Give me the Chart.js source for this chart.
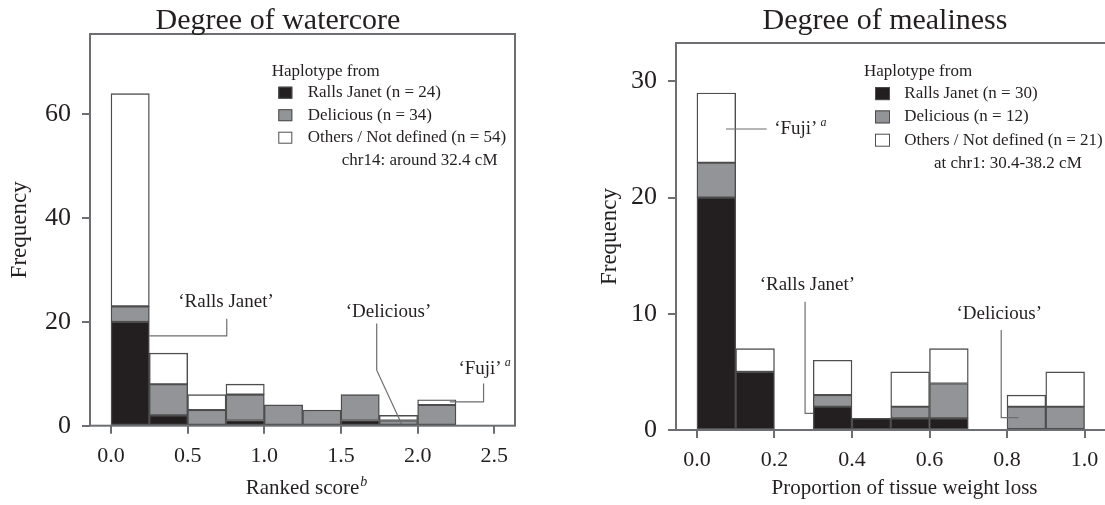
<!DOCTYPE html>
<html>
<head>
<meta charset="utf-8">
<script src="https://cdn.jsdelivr.net/npm/chart.js@4.4.1/dist/chart.umd.min.js"></script>
<style>
    html, body { margin: 0; padding: 0; background: #fff; overflow: hidden; width: 1105px; height: 505px; }
    .panel { position: absolute; top: 0; height: 505px; }
    #panel-watercore { left: 0; width: 556px; }
    #panel-mealiness { left: 560px; width: 650px; }
</style>
</head>
<body>
<div class="panel" id="panel-watercore"><canvas id="chart-watercore"></canvas></div>
<div class="panel" id="panel-mealiness"><canvas id="chart-mealiness"></canvas></div>

<script>
// ---- 資料：含水（watercore） ----
const watercoreBinStart = [0, 0.25, 0.5, 0.75, 1.0, 1.25, 1.5, 1.75, 2.0];
const watercoreBinWidth = 0.25;
const watercoreRallsJanet = [20, 2, 0, 1, 0, 0, 1, 0, 0];
const watercoreDelicious = [3, 6, 3, 5, 4, 3, 5, 1, 4];
const watercoreOthers = [41, 6, 3, 2, 0, 0, 0, 1, 1];
const watercoreLabels = ["Ralls Janet (n = 24)", "Delicious (n = 34)", "Others / Not defined (n = 54)"];
const watercoreXTicks = [0, 0.5, 1.0, 1.5, 2.0, 2.5];
const watercoreYTicks = [0, 20, 40, 60];

// ---- 資料：粉質（mealiness） ----
const mealinessBinStart = [0, 0.1, 0.2, 0.3, 0.4, 0.5, 0.6, 0.7, 0.8, 0.9];
const mealinessBinWidth = 0.1;
const mealinessRallsJanet = [20, 5, 0, 2, 1, 1, 1, 0, 0, 0];
const mealinessDelicious = [3, 0, 0, 1, 0, 1, 3, 0, 2, 2];
const mealinessOthers = [6, 2, 0, 3, 0, 3, 3, 0, 1, 3];
const mealinessLabels = ["Ralls Janet (n = 30)", "Delicious (n = 12)", "Others / Not defined (n = 21)"];
const mealinessXTicks = [0, 0.2, 0.4, 0.6, 0.8, 1.0];
const mealinessYTicks = [0, 10, 20, 30];

// 標註（品種位置）：文字中心與引線，皆為資料座標
const watercoreCallouts = [
    { text: "‘Ralls Janet’", at: [0.75, 23.8], line: [[0.25, 17.3], [0.755, 17.3], [0.755, 20.6]] },
    { text: "‘Delicious’", at: [1.81, 21.9], line: [[1.733, 19.7], [1.733, 10.7], [1.896, 0.3]] },
    { text: "‘Fuji’", sup: "a", at: [2.407, 11.0], line: [[2.43, 8.15], [2.43, 4.6], [2.21, 4.6]] }
];
const mealinessCallouts = [
    { text: "‘Fuji’", sup: "a", at: [0.255, 25.9], line: [[0.075, 25.9], [0.18, 25.9]] },
    { text: "‘Ralls Janet’", at: [0.285, 12.47], line: [[0.279, 11.03], [0.279, 1.43], [0.30, 1.43]] },
    { text: "‘Delicious’", at: [0.78, 10.0], line: [[0.785, 8.6], [0.785, 1.06], [0.83, 1.06]] }
];

const SERIF = '"Liberation Serif", "Times New Roman", serif';
const INK = "#231f20";
const FRAME = "#6d6e71";
const EDGE = "#4d4d4d";
const FILLS = ["#231f20", "#929497", "#ffffff"];

Chart.defaults.font.family = SERIF;
Chart.defaults.color = INK;

// 自訂外框、標題、圖例與標註
const notesPlugin = {
    id: "notes",
    afterDraw(chart, args, opts) {
        const { ctx, chartArea: a, scales: { x, y } } = chart;
        ctx.save();

        // 外框
        ctx.strokeStyle = FRAME;
        ctx.lineWidth = 2;
        ctx.strokeRect(a.left, a.top, a.right - a.left, a.bottom - a.top);

        // 主標題
        ctx.fillStyle = INK;
        ctx.textBaseline = "middle";
        ctx.textAlign = "center";
        ctx.font = `30px ${SERIF}`;
        ctx.fillText(opts.title, chart.width / 2, 21);

        // x 軸標題上標
        if (opts.xSup) {
            const t = chart.options.scales.x.title;
            ctx.font = `${t.font.size}px ${SERIF}`;
            const w = ctx.measureText(t.text).width;
            const cy = x.bottom - t.padding.bottom - t.font.size / 2;
            ctx.font = `italic 14px ${SERIF}`;
            ctx.textAlign = "left";
            ctx.fillText(opts.xSup, (a.left + a.right) / 2 + w / 2 + 1, cy - 6);
        }

        // 圖例
        const L = opts.legend;
        const lx = a.left + L.dx;
        const ly = a.top + L.dy;
        ctx.font = `17px ${SERIF}`;
        ctx.textAlign = "left";
        ctx.fillStyle = INK;
        ctx.fillText("Haplotype from", lx, ly);
        chart.data.datasets.forEach((ds, i) => {
            const ry = ly + L.first + L.step * i;
            ctx.fillStyle = ds.backgroundColor;
            ctx.fillRect(lx + L.boxX, ry - L.boxH / 2, L.boxW, L.boxH);
            ctx.strokeStyle = EDGE;
            ctx.lineWidth = 1;
            ctx.strokeRect(lx + L.boxX + 0.5, ry - L.boxH / 2 + 0.5, L.boxW - 1, L.boxH - 1);
            ctx.fillStyle = INK;
            ctx.fillText(ds.label, lx + L.textX, ry);
        });
        ctx.fillText(L.note, lx + L.noteX, ly + L.first + L.step * 3);

        // 標註
        opts.callouts.forEach(c => {
            ctx.strokeStyle = FRAME;
            ctx.lineWidth = 1.2;
            ctx.beginPath();
            c.line.forEach((p, i) => {
                const px = x.getPixelForValue(p[0]);
                const py = y.getPixelForValue(p[1]);
                if (i === 0) ctx.moveTo(px, py); else ctx.lineTo(px, py);
            });
            ctx.stroke();

            ctx.font = `19px ${SERIF}`;
            ctx.textAlign = "center";
            ctx.fillStyle = INK;
            const cx = x.getPixelForValue(c.at[0]);
            const cy = y.getPixelForValue(c.at[1]);
            ctx.fillText(c.text, cx, cy);
            if (c.sup) {
                const w = ctx.measureText(c.text).width;
                ctx.font = `italic 12px ${SERIF}`;
                ctx.textAlign = "left";
                ctx.fillText(c.sup, cx + w / 2 + 3, cy - 6);
            }
        });

        ctx.restore();
    }
};

function makeHistogram(canvasId, cfg) {
    const centers = cfg.binStart.map(v => v + cfg.binWidth / 2);
    const series = [cfg.ralls, cfg.delicious, cfg.others];
    const datasets = series.map((vals, i) => ({
        label: cfg.labels[i],
        data: vals.map((v, k) => ({ x: centers[k], y: v })),
        backgroundColor: FILLS[i],
        borderColor: EDGE,
        borderWidth: 1.4,
        borderSkipped: false,
        barPercentage: 1,
        categoryPercentage: 1
    }));

    return new Chart(document.getElementById(canvasId), {
        type: "bar",
        data: { datasets },
        options: {
            responsive: true,
            maintainAspectRatio: false,
            animation: false,
            layout: { padding: { top: cfg.top, right: cfg.right, left: 0, bottom: 0 } },
            plugins: {
                legend: { display: false },
                tooltip: { enabled: false },
                notes: {
                    title: cfg.title,
                    xSup: cfg.xSup,
                    legend: cfg.legend,
                    callouts: cfg.callouts
                }
            },
            scales: {
                x: {
                    type: "linear",
                    stacked: true,
                    offset: false,
                    min: cfg.xMin,
                    max: cfg.xMax,
                    afterFit: s => { s.height = cfg.xAxisHeight; },
                    afterBuildTicks: s => { s.ticks = cfg.xTicks.map(v => ({ value: v })); },
                    border: { display: false },
                    grid: { display: true, offset: false, drawOnChartArea: false, drawTicks: true, tickLength: 8, color: FRAME, lineWidth: 2 },
                    ticks: { font: { size: 22 }, padding: 9, maxRotation: 0, callback: v => v.toFixed(1) },
                    title: { display: true, text: cfg.xTitle, font: { size: 21, lineHeight: 1 }, padding: { top: 0, bottom: 6.5 } }
                },
                y: {
                    stacked: true,
                    min: 0,
                    max: cfg.yMax,
                    afterFit: s => { s.width = cfg.yAxisWidth; },
                    afterBuildTicks: s => { s.ticks = cfg.yTicks.map(v => ({ value: v })); },
                    border: { display: false },
                    grid: { display: true, offset: false, drawOnChartArea: false, drawTicks: true, tickLength: 8, color: FRAME, lineWidth: 2 },
                    ticks: { font: { size: 26 }, padding: 11 },
                    title: { display: true, text: "Frequency", font: { size: 23, lineHeight: 1 }, padding: { top: cfg.yTitlePad, bottom: 0 } }
                }
            }
        },
        plugins: [notesPlugin]
    });
}

makeHistogram("chart-watercore", {
    title: "Degree of watercore",
    binStart: watercoreBinStart, binWidth: watercoreBinWidth,
    ralls: watercoreRallsJanet, delicious: watercoreDelicious, others: watercoreOthers,
    labels: watercoreLabels,
    xTicks: watercoreXTicks, yTicks: watercoreYTicks,
    xMin: -0.137, xMax: 2.635, yMax: 75.5,
    top: 34, right: 41, xAxisHeight: 79.3, yAxisWidth: 90, yTitlePad: 8.5,
    xTitle: "Ranked score", xSup: "b",
    legend: { dx: 181.7, dy: 37.7, first: 21, step: 22.5, boxX: 6.6, boxW: 14, boxH: 12, textX: 36, noteX: 70, note: "chr14: around 32.4 cM" },
    callouts: watercoreCallouts
});

makeHistogram("chart-mealiness", {
    title: "Degree of mealiness",
    binStart: mealinessBinStart, binWidth: mealinessBinWidth,
    ralls: mealinessRallsJanet, delicious: mealinessDelicious, others: mealinessOthers,
    labels: mealinessLabels,
    xTicks: mealinessXTicks, yTicks: mealinessYTicks,
    xMin: -0.054, xMax: 1.125, yMax: 33.3,
    top: 43, right: 77, xAxisHeight: 75, yAxisWidth: 116, yTitlePad: 38.5,
    xTitle: "Proportion of tissue weight loss", xSup: null,
    legend: { dx: 188, dy: 28.3, first: 22.3, step: 23.3, boxX: 11, boxW: 15, boxH: 13, textX: 40.3, noteX: 70, note: "at chr1: 30.4-38.2 cM" },
    callouts: mealinessCallouts
});
</script>
